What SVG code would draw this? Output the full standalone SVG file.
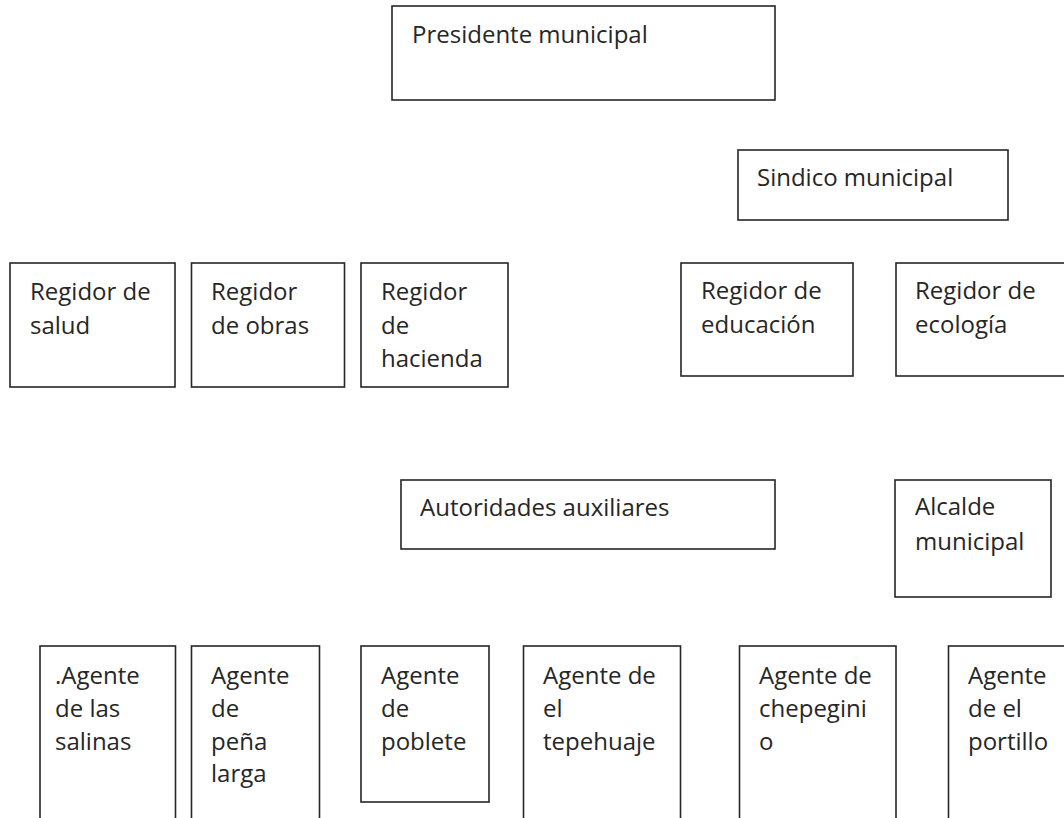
<svg xmlns="http://www.w3.org/2000/svg" width="1064" height="818" viewBox="0 0 1064 818">
<style>
.box{fill:#fff;stroke:#262626;stroke-width:1.6}
.t{font-family:"Open Sans","Liberation Sans",sans-serif;font-size:24px;fill:#262626}
</style>
<rect width="1064" height="818" fill="#fff"/>
<g id="connectors"/>
<g id="presidente"><rect class="box" x="392" y="6" width="383" height="94"/><text class="t" x="412" y="43">Presidente municipal</text></g>
<g id="sindico"><rect class="box" x="738" y="150" width="270" height="70"/><text class="t" x="757" y="186">Sindico municipal</text></g>
<g id="salud"><rect class="box" x="10" y="263" width="165" height="124"/><text class="t" x="30" y="300"><tspan x="30">Regidor de</tspan><tspan x="30" dy="33.7">salud</tspan></text></g>
<g id="obras"><rect class="box" x="191.5" y="263" width="153" height="124"/><text class="t" x="211" y="300"><tspan x="211">Regidor</tspan><tspan x="211" dy="33.7">de obras</tspan></text></g>
<g id="hacienda"><rect class="box" x="361" y="263" width="147" height="124"/><text class="t" x="381" y="300"><tspan x="381">Regidor</tspan><tspan x="381" dy="33.7">de</tspan><tspan x="381" dy="33.7">hacienda</tspan></text></g>
<g id="educacion"><rect class="box" x="681" y="263" width="172" height="113"/><text class="t" x="701" y="299"><tspan x="701">Regidor de</tspan><tspan x="701" dy="33.7">educación</tspan></text></g>
<g id="ecologia"><rect class="box" x="896" y="263" width="172" height="113"/><text class="t" x="915" y="299"><tspan x="915">Regidor de</tspan><tspan x="915" dy="33.7">ecología</tspan></text></g>
<g id="autoridades"><rect class="box" x="401" y="480" width="374" height="69"/><text class="t" x="420" y="516">Autoridades auxiliares</text></g>
<g id="alcalde"><rect class="box" x="895" y="480" width="156" height="117"/><text class="t" x="915" y="515"><tspan x="915">Alcalde</tspan><tspan x="915" dy="34.5">municipal</tspan></text></g>
<g id="salinas"><rect class="box" x="40" y="646" width="135.5" height="190"/><text class="t" x="55" y="684"><tspan x="55">.Agente</tspan><tspan x="55" dy="32.8">de las</tspan><tspan x="55" dy="32.8">salinas</tspan></text></g>
<g id="pena"><rect class="box" x="191.5" y="646" width="128" height="190"/><text class="t" x="211" y="684"><tspan x="211">Agente</tspan><tspan x="211" dy="32.8">de</tspan><tspan x="211" dy="32.8">peña</tspan><tspan x="211" dy="32.8">larga</tspan></text></g>
<g id="poblete"><rect class="box" x="361" y="646" width="128" height="156"/><text class="t" x="381" y="684"><tspan x="381">Agente</tspan><tspan x="381" dy="32.8">de</tspan><tspan x="381" dy="32.8">poblete</tspan></text></g>
<g id="tepehuaje"><rect class="box" x="523.5" y="646" width="157" height="190"/><text class="t" x="543" y="684"><tspan x="543">Agente de</tspan><tspan x="543" dy="32.8">el</tspan><tspan x="543" dy="32.8">tepehuaje</tspan></text></g>
<g id="chepeginio"><rect class="box" x="739.5" y="646" width="156.5" height="190"/><text class="t" x="759" y="684"><tspan x="759">Agente de</tspan><tspan x="759" dy="32.8">chepegini</tspan><tspan x="759" dy="32.8">o</tspan></text></g>
<g id="portillo"><rect class="box" x="948.5" y="646" width="130" height="190"/><text class="t" x="968" y="684"><tspan x="968">Agente</tspan><tspan x="968" dy="32.8">de el</tspan><tspan x="968" dy="32.8">portillo</tspan></text></g>
</svg>
